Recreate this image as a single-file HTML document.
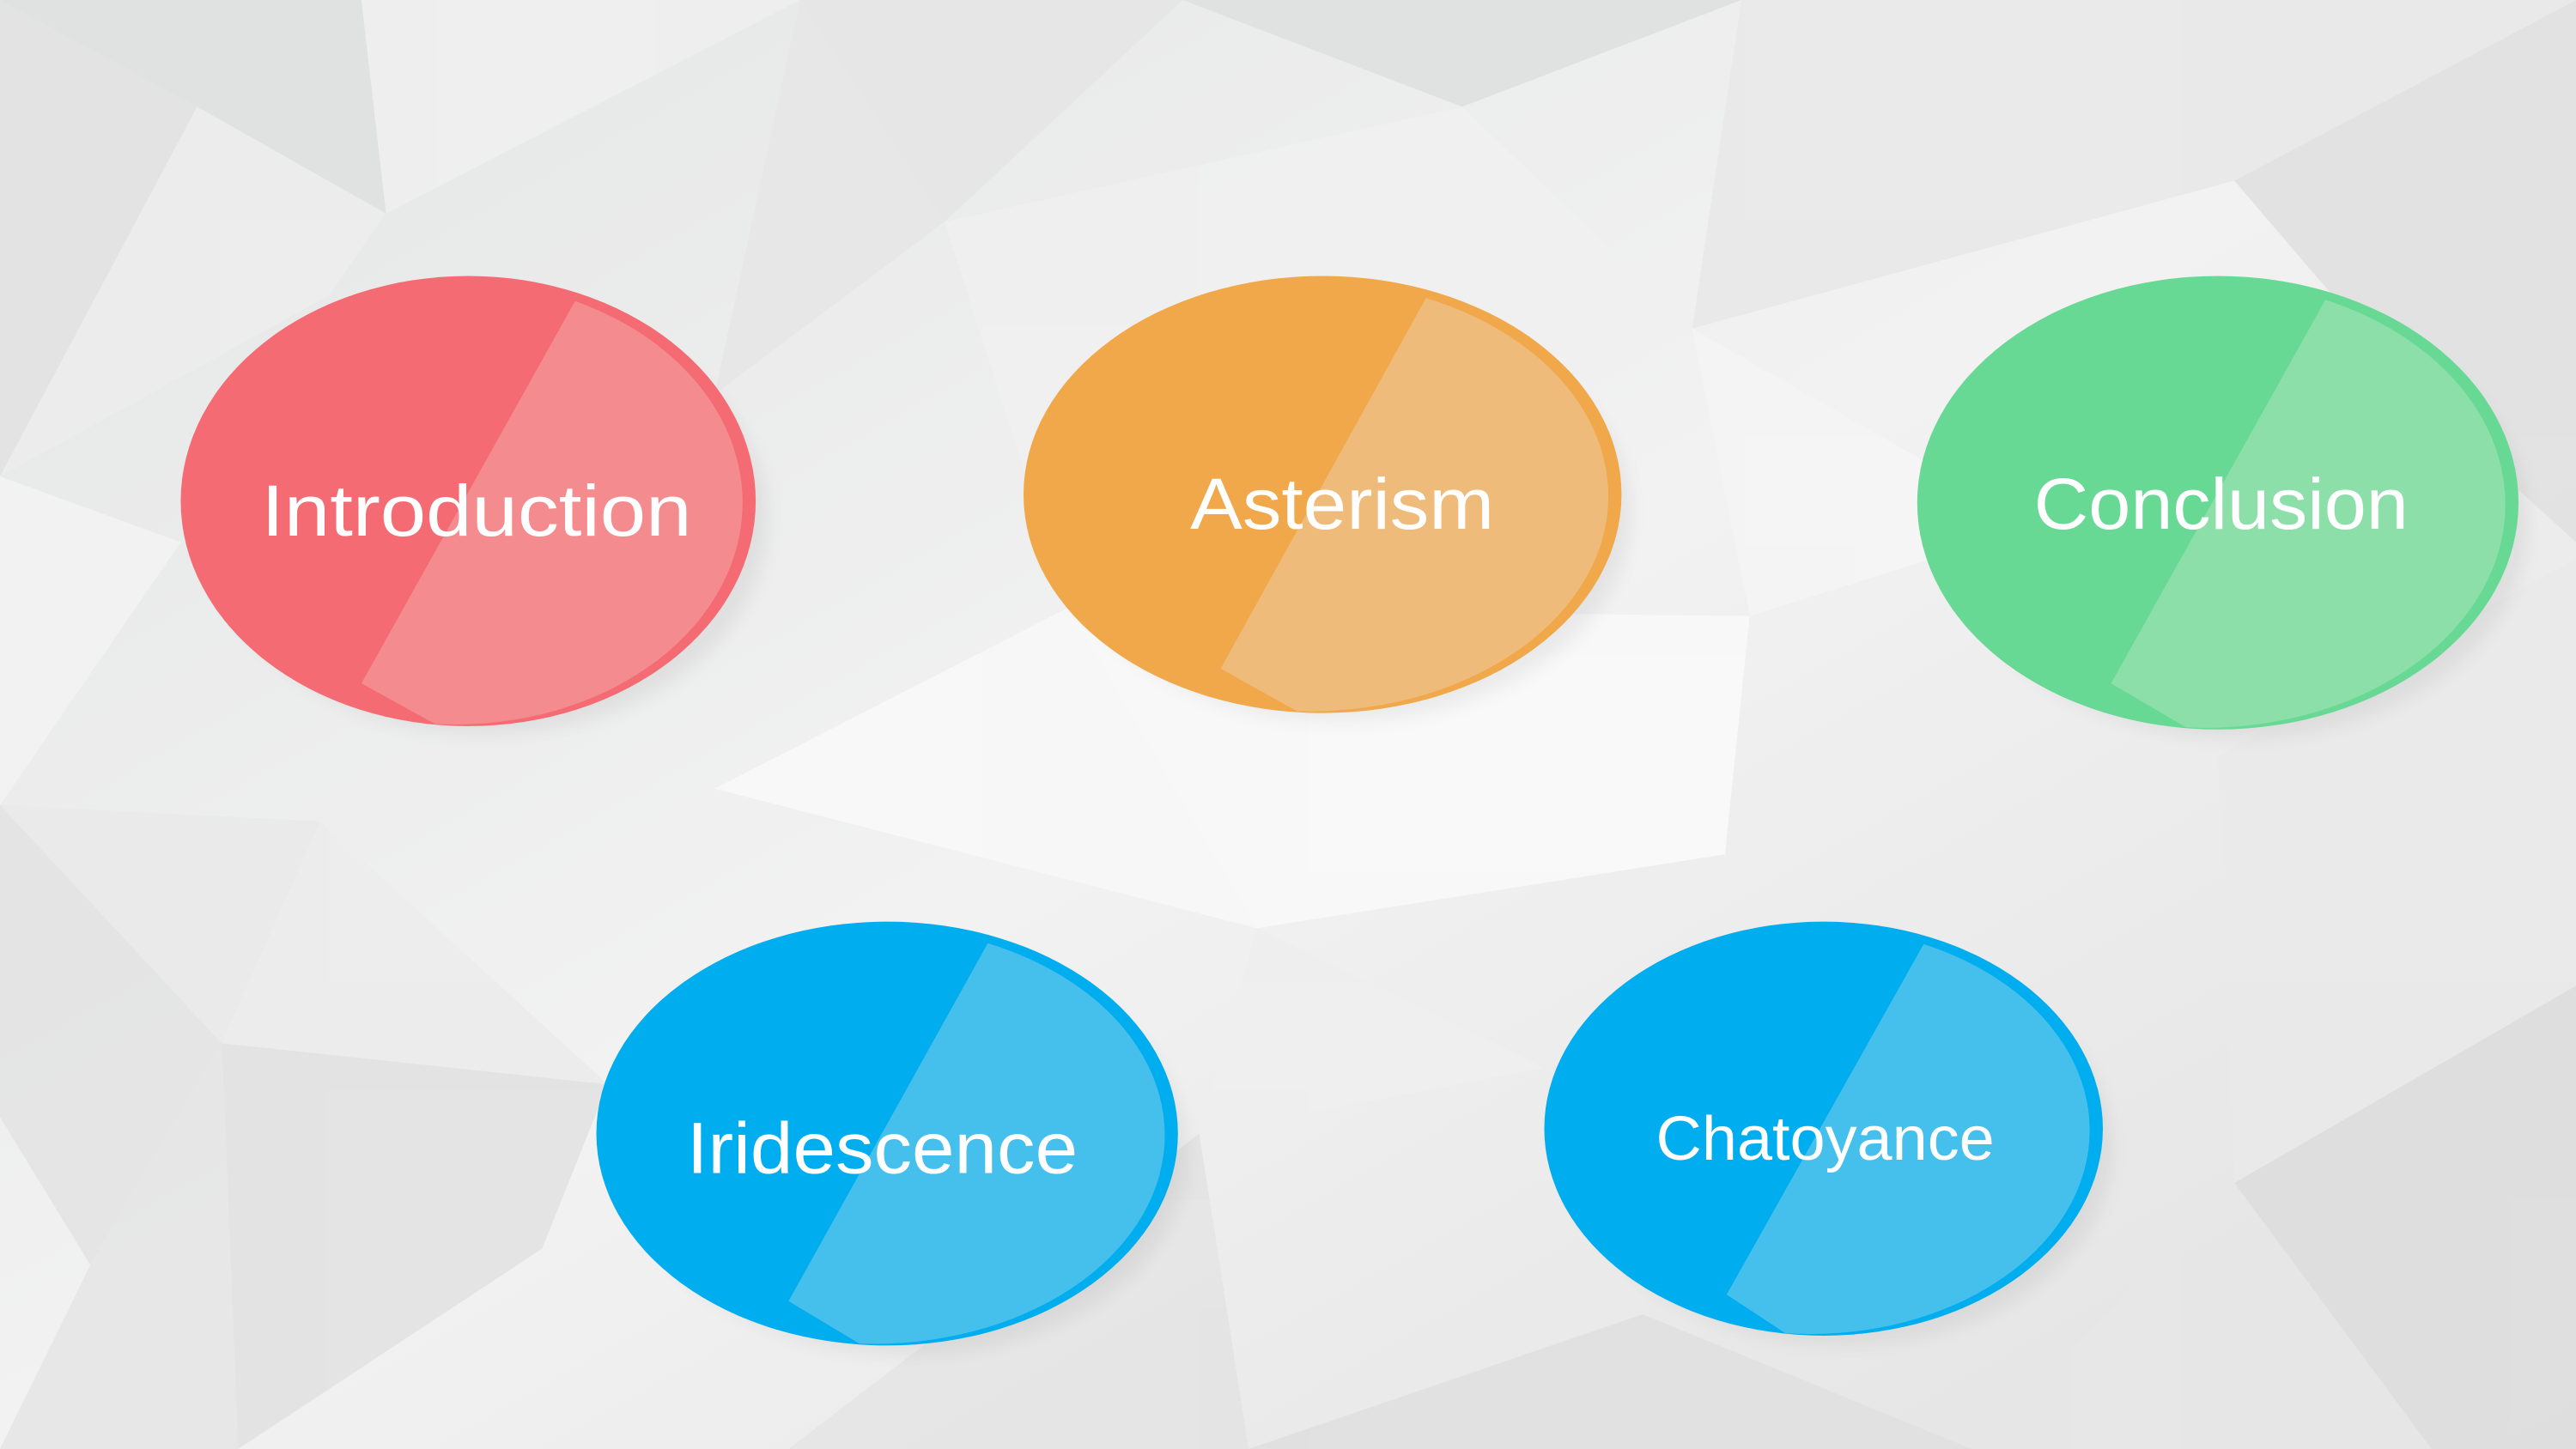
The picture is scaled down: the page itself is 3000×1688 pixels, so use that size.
<!DOCTYPE html>
<html><head><meta charset="utf-8"><style>
html,body{margin:0;padding:0;width:3000px;height:1688px;overflow:hidden;background:#ececec}
svg{display:block}
text{font-family:"Liberation Sans",sans-serif;fill:#fff}
</style></head><body>
<svg width="3000" height="1688" viewBox="0 0 1568 882" preserveAspectRatio="none" xmlns="http://www.w3.org/2000/svg">
<defs>
<linearGradient id="bg" x1="0" y1="0" x2="1" y2="1">
<stop offset="0" stop-color="#e4e5e5"/><stop offset="0.5" stop-color="#f2f2f2"/><stop offset="1" stop-color="#e2e2e2"/>
</linearGradient>
<filter id="sh" x="-20%" y="-20%" width="140%" height="140%"><feGaussianBlur stdDeviation="6"/></filter>
</defs>
<rect width="1568" height="882" fill="url(#bg)"/>
<g opacity="0.9">
<polygon points="0,0 220,0 235,130 120,65" fill="#e0e1e1"/>
<polygon points="220,0 487,0 235,130" fill="#efefef"/>
<polygon points="487,0 720,0 575,135" fill="#e6e6e6"/>
<polygon points="720,0 1060,0 890,65" fill="#dfe0e0"/>
<polygon points="1060,0 1568,0 1360,110 1030,200" fill="#e9e9e9"/>
<polygon points="1360,110 1568,0 1568,330 1480,250" fill="#e1e1e1"/>
<polygon points="0,0 120,65 0,290" fill="#e3e3e3"/>
<polygon points="120,65 235,130 200,180 0,290" fill="#ededed"/>
<polygon points="487,0 435,240 575,135" fill="#e7e7e7"/>
<polygon points="575,135 890,65 1030,200 650,370" fill="#f0f0f0"/>
<polygon points="1030,200 1065,375 1240,320" fill="#f5f5f5"/>
<polygon points="0,290 110,330 0,490" fill="#f3f3f3"/>
<polygon points="0,490 195,500 135,635" fill="#eaeaea"/>
<polygon points="0,490 135,635 55,770 0,680" fill="#e4e4e4"/>
<polygon points="435,480 650,370 765,565" fill="#f8f8f8"/>
<polygon points="765,565 1050,520 1065,375 650,370" fill="#f9f9f9"/>
<polygon points="135,635 370,660 195,500" fill="#ececec"/>
<polygon points="135,635 145,882 0,882 55,770" fill="#e6e6e6"/>
<polygon points="145,882 330,760 370,660 135,635" fill="#e2e2e2"/>
<polygon points="730,690 760,882 480,882" fill="#e4e4e4"/>
<polygon points="760,882 1000,800 1200,882" fill="#e0e0e0"/>
<polygon points="1360,720 1568,600 1568,882 1480,882" fill="#dedede"/>
<polygon points="1350,460 1568,340 1568,600 1360,720" fill="#eaeaea"/>
<polygon points="1200,882 1360,720 1480,882" fill="#e7e7e7"/>
<polygon points="765,565 940,650 730,690" fill="#eeeeee"/>
</g>

<g>
<ellipse cx="297" cy="317" rx="170" ry="130" fill="#000" opacity="0.06" filter="url(#sh)"/>
<ellipse cx="285" cy="305" rx="175" ry="137" fill="#f46b73"/>
<clipPath id="c1"><ellipse cx="277" cy="306" rx="175" ry="135"/></clipPath>
<polygon clip-path="url(#c1)" points="353,178 220,416 300,460 470,460 470,150" fill="#f48c8f"/>
<text x="290" y="326" font-size="44" text-anchor="middle" textLength="262" lengthAdjust="spacingAndGlyphs">Introduction</text>
</g>

<g>
<ellipse cx="817" cy="313" rx="175" ry="126" fill="#000" opacity="0.06" filter="url(#sh)"/>
<ellipse cx="805" cy="301" rx="182" ry="133" fill="#f0a84a"/>
<clipPath id="c2"><ellipse cx="797" cy="302" rx="182" ry="131"/></clipPath>
<polygon clip-path="url(#c2)" points="871,176 743,407 820,450 1000,450 1000,150" fill="#efbb7a"/>
<text x="817" y="322" font-size="44" text-anchor="middle" textLength="185" lengthAdjust="spacingAndGlyphs">Asterism</text>
</g>

<g>
<ellipse cx="1362" cy="318" rx="176" ry="131" fill="#000" opacity="0.06" filter="url(#sh)"/>
<ellipse cx="1350" cy="306" rx="183" ry="138" fill="#68d994"/>
<clipPath id="c3"><ellipse cx="1342" cy="307" rx="183" ry="136"/></clipPath>
<polygon clip-path="url(#c3)" points="1418,178 1285,416 1360,460 1540,460 1540,150" fill="#8ddfaa"/>
<text x="1352" y="322" font-size="44" text-anchor="middle" textLength="228" lengthAdjust="spacingAndGlyphs">Conclusion</text>
</g>

<g>
<ellipse cx="552" cy="702" rx="170" ry="122" fill="#000" opacity="0.06" filter="url(#sh)"/>
<ellipse cx="540" cy="690" rx="177" ry="129" fill="#00adef"/>
<clipPath id="c4"><ellipse cx="532" cy="691" rx="177" ry="127"/></clipPath>
<polygon clip-path="url(#c4)" points="603,571 480,792 560,840 730,840 730,540" fill="#45bfec"/>
<text x="537" y="714" font-size="44" text-anchor="middle" textLength="238" lengthAdjust="spacingAndGlyphs">Iridescence</text>
</g>

<g>
<ellipse cx="1122" cy="699" rx="163" ry="119" fill="#000" opacity="0.06" filter="url(#sh)"/>
<ellipse cx="1110" cy="687" rx="170" ry="126" fill="#00adef"/>
<clipPath id="c5"><ellipse cx="1102" cy="688" rx="170" ry="124"/></clipPath>
<polygon clip-path="url(#c5)" points="1173,571 1051,788 1130,840 1300,840 1300,540" fill="#45bfec"/>
<text x="1111" y="706" font-size="38" text-anchor="middle" textLength="206" lengthAdjust="spacingAndGlyphs">Chatoyance</text>
</g>
</svg>
</body></html>
